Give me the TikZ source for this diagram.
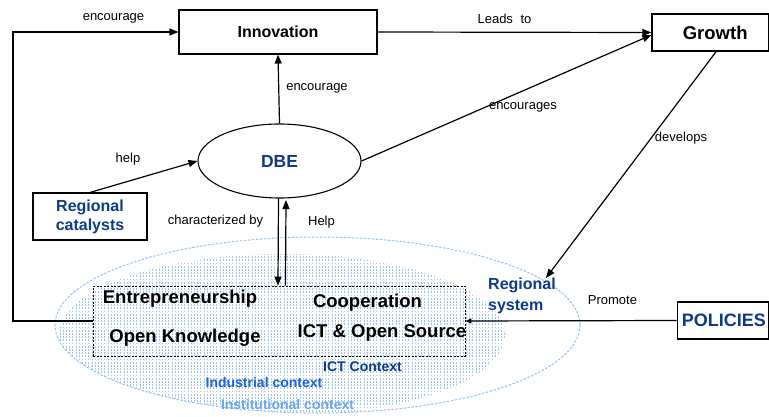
\documentclass[tikz,border=0pt]{standalone}
\usepackage{fontspec}
\setmainfont{Liberation Sans}
\usetikzlibrary{arrows.meta,shapes.geometric}
\definecolor{dblue}{RGB}{14,58,140}
\definecolor{mblue}{RGB}{30,100,215}
\definecolor{lblue}{RGB}{105,165,240}
\definecolor{pblue}{RGB}{160,196,242}
\definecolor{eblue}{RGB}{150,195,245}
\begin{document}
\begin{tikzpicture}[x=1pt,y=-1pt,
  box/.style={draw,line width=1.1pt,inner sep=0pt},
  arr/.style={line width=1.2pt,-{Triangle[length=9pt,width=7pt]}},
  sarr/.style={line width=1.2pt,-{Triangle[length=6pt,width=5pt]}},
  lbl/.style={font=\fontsize{13}{15}\selectfont,inner sep=0pt},
  big/.style={font=\bfseries\fontsize{18.5}{21}\selectfont,inner sep=0pt},
  ctxt/.style={font=\bfseries\fontsize{14}{16}\selectfont,inner sep=0pt}]
\useasboundingbox[fill=white] (0,0) rectangle (769,417);
% dotted pattern
\begin{scope}
  \clip (317.5,325) ellipse [x radius=262.5, y radius=88];
  \clip (282,335) ellipse [x radius=223, y radius=81];
  \foreach \x in {60,63.2,...,506}
    \draw[pblue,line width=1pt,dash pattern=on 1.8pt off 1.4pt] (\x,237) -- (\x,417);
\end{scope}
\node[ellipse,draw=eblue,line width=1pt,dash pattern=on 2.5pt off 1.5pt,
      minimum width=525pt,minimum height=176pt,inner sep=0pt] (ctx) at (317.5,325) {};
% boxes
\node[box,minimum width=198pt,minimum height=44pt,font=\bfseries\fontsize{16}{19}\selectfont] (innov) at (278,32) {Innovation};
\node[box,minimum width=116.5pt,minimum height=37pt,font=\bfseries\fontsize{18.5}{21}\selectfont] (growth) at (710.2,32.5) {\hspace*{10pt}Growth};
\node[ellipse,draw,line width=1.1pt,minimum width=163pt,minimum height=74pt,inner sep=0pt,
      text=dblue,font=\bfseries\fontsize{17.5}{20}\selectfont] (dbe) at (279.5,161) {DBE};
\node[box,minimum width=114pt,minimum height=47pt,align=center,text=dblue,
      font=\bfseries\fontsize{16}{19}\selectfont] (rc) at (90,216.5) {Regional\\catalysts};
\node[box,minimum width=91.5pt,minimum height=37pt,text=dblue,
      font=\bfseries\fontsize{18}{21}\selectfont] (pol) at (722.8,320.5) {\hspace*{2pt}POLICIES};
\node[draw,line width=0.9pt,dash pattern=on 2pt off 1.5pt,minimum width=372pt,minimum height=70pt,inner sep=0pt] (dbox) at (279,321) {};
% texts inside
\node[big] (ent) at (180,299) {Entrepreneurship};
\node[big] (coop) at (367.5,302.5) {Cooperation};
\node[big] (ok) at (185,338) {Open Knowledge};
\node[big] (ict) at (382,333) {ICT \& Open Source};
\node[ctxt,text=dblue] (ictc) at (362.5,367) {ICT Context};
\node[ctxt,text=mblue] (indc) at (264,382) {Industrial context};
\node[ctxt,text=lblue] (insc) at (287.5,404) {Institutional context};
\node[anchor=west,align=left,inner sep=0pt,text=dblue,font=\bfseries\fontsize{16}{21}\selectfont] (rs) at (488,295.5) {Regional\\system};
\coordinate (rsend) at (546,278);
\coordinate (loopx) at (13,0);
% connectors
\draw[arr] (innov.east) -- (growth.west);
\draw[arr] (dbox.west) -- (dbox.west -| loopx) |- (innov.west);
\draw[arr] (dbe.north) -- (innov.south);
\draw[arr] (rc.north) -- (dbe.west);
\draw[arr] (dbe.east) -- ([yshift=-2.5pt]growth.west);
\draw[arr] ([xshift=6pt]growth.south) -- (rsend);
\draw[sarr] (pol.west) -- (dbox.east);
\draw[arr] ([xshift=-1pt]dbe.south) -- ([xshift=-1pt]dbox.north);
\draw[arr] ([xshift=6.5pt]dbox.north) -- ([xshift=6.5pt,yshift=-1.5pt]dbe.south);
% labels
\node[lbl] (l1) at (113.5,18) {encourage};
\node[lbl] (l2) at (504.5,19) {Leads\hspace{4pt} to};
\node[lbl] (l3) at (317,88) {encourage};
\node[lbl] (l4) at (128,159) {help};
\node[lbl] (l5) at (523,107) {encourages};
\node[lbl] (l6) at (681,138) {develops};
\node[lbl] (l7) at (215.5,221) {characterized by};
\node[lbl] (l8) at (321.5,222) {Help};
\node[lbl] (l9) at (612.5,300) {Promote};
\end{tikzpicture}
\end{document}
